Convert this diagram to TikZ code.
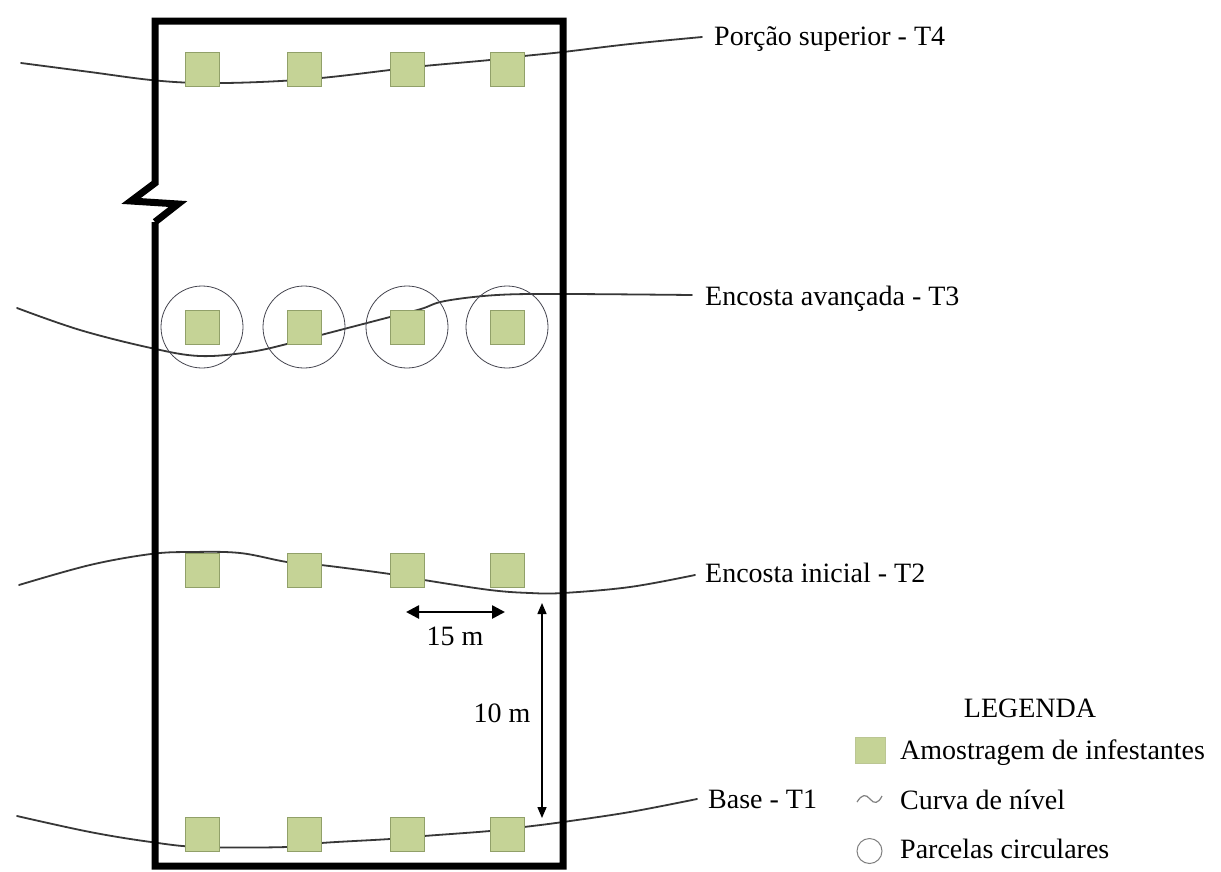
\documentclass[tikz,border=0pt]{standalone}
\usepackage{fontspec}
\setmainfont{Liberation Serif}
\usetikzlibrary{arrows.meta}
\definecolor{sqfill}{RGB}{197,211,150}
\definecolor{sqdraw}{RGB}{145,160,105}
\definecolor{curvecol}{RGB}{55,55,55}
\definecolor{circcol}{RGB}{70,70,80}
\tikzset{
  sample/.style={draw=sqdraw, fill=sqfill, minimum size=34pt, inner sep=0pt, line width=1pt},
  contour/.style={draw=curvecol, line width=1.8pt, line cap=round},
  plotcirc/.style={draw=circcol, line width=0.8pt, circle, minimum size=82pt, inner sep=0pt},
  boxline/.style={draw=black, line width=7pt, line join=miter},
  lbl/.style={anchor=base west, inner sep=0pt, font=\fontsize{28}{34}\selectfont},
  lblc/.style={anchor=base, inner sep=0pt, font=\fontsize{28}{34}\selectfont},
  dimthick/.style={line width=2.6pt, {Triangle[length=13pt,width=13pt]}-{Triangle[length=13pt,width=13pt]}},
  dimthin/.style={line width=1.5pt, {Triangle[length=11pt,width=9pt]}-{Triangle[length=11pt,width=9pt]}}
}
\begin{document}
\begin{tikzpicture}[x=1pt,y=-1pt]
\useasboundingbox (0,0) rectangle (1221,871);
\fill[white] (0,0) rectangle (1221,871);

% contour lines
\draw[contour] plot[smooth, tension=0.6] coordinates {(21,63) (90,72) (151,80) (200,83) (260,82) (321,78) (390,70) (424,66) (490,60) (524,56) (563,52) (630,44) (702,37)};
\draw[contour] plot[smooth, tension=0.6] coordinates {(17,308) (80,330) (151,348) (200,356) (250,352) (291,343) (321,335) (390,317) (421,309) (445,301) (497,295) (563,294) (692,295)};
\draw[contour] plot[smooth, tension=0.6] coordinates {(19,585) (90,565) (151,554) (191,552) (240,553) (287,562) (321,565) (390,574) (424,580) (490,590) (530,593) (563,593) (630,587) (695,575)};
\draw[contour] plot[smooth, tension=0.6] coordinates {(17,816) (90,832) (151,842) (200,847) (287,847) (321,843) (390,839) (424,836) (490,831) (524,827) (563,822) (630,812) (697,799)};

% outer box with break
\draw[boxline] (155,222) -- (155,866) -- (563,866) -- (563,21) -- (155,21) -- (155,183) -- (131,201) -- (178,204) -- (155,222);

% sample squares
\foreach \x [count=\i] in {202,304,407,507} {
  \node[sample] (sqA\i) at (\x,69) {};
  \node[sample] (sqB\i) at (\x,327) {};
  \node[sample] (sqC\i) at (\x,570) {};
  \node[sample] (sqD\i) at (\x,834) {};
  \node[plotcirc] (pc\i) at (\x,327) {};
}

% labels
\node[lbl] (t4) at (714,45) {Porção superior - T4};
\node[lbl] (t3) at (705,305) {Encosta avançada - T3};
\node[lbl] (t2) at (705,582) {Encosta inicial - T2};
\node[lbl] (t1) at (708,808) {Base - T1};

% dimensions
\coordinate (h1) at (406,612);
\coordinate (h2) at (505,612);
\draw[dimthick] (h1) -- (h2);
\node[lblc] (d15) at (455,645) {15 m};
\coordinate (v1) at (542,603);
\coordinate (v2) at (542,818);
\draw[dimthin] (v1) -- (v2);
\node[lblc] (d10) at (502,722) {10 m};

% legend
\node[lblc] (leg) at (1030,717) {LEGENDA};
\node[draw=sqfill!85!gray, fill=sqfill, minimum width=30pt, minimum height=26pt, inner sep=0pt] (lsq) at (870,750) {};
\node[lbl] (l1) at (900,759) {Amostragem de infestantes};
\draw[draw=gray, line width=1.2pt] (857,802) .. controls (862,794) and (866,794) .. (870,799) .. controls (874,804) and (878,804) .. (882,796);
\node[lbl] (l2) at (900,809) {Curva de nível};
\node[draw=gray, line width=1pt, circle, minimum size=25pt, inner sep=0pt] (lci) at (869.5,851) {};
\node[lbl] (l3) at (900,858) {Parcelas circulares};
\end{tikzpicture}
\end{document}
